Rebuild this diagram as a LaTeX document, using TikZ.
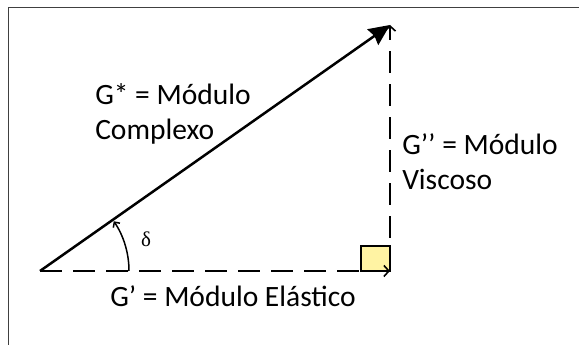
\documentclass[tikz,border=0pt]{standalone}
\usepackage{fontspec}
\setmainfont{Carlito}
\newfontfamily\greekfont{Liberation Serif}
\usetikzlibrary{arrows.meta}
\definecolor{quadyellow}{HTML}{FFF3A3}
\begin{document}
\begin{tikzpicture}[x=1pt,y=1pt,line width=2.5pt,
  dline/.style={dash pattern=on 22pt off 11pt},
  barb/.style={-{Straight Barb[length=5pt,width=11pt,line width=1.6pt]}},
  lbl/.style={inner sep=0pt,align=left,font=\fontsize{29.5}{35}\selectfont}]
  \useasboundingbox (0,0) rectangle (579,345);
  \coordinate (O) at (40,74);
  \coordinate (P) at (390,74);
  \coordinate (T) at (390,320);

  % 边框
  \draw[line width=0.8pt,black!75] (8,0) -- (8,338) -- (579,338);

  % 直角
  \draw[line width=2pt,fill=quadyellow] (P) rectangle ++(-29,25);

  % 分量（虚线）
  \draw[dline,barb] (O) -- (P);
  \draw[dline,barb] (P) -- (T);

  % 合成向量
  \draw[-{Stealth[length=21pt,width=19pt,inset=2pt]}] (O) -- (T);

  % 角度
  \draw[line width=1.5pt,-{Straight Barb[length=4pt,width=8pt]}]
    (O) ++(0:89) arc[start angle=0,end angle=34,radius=89];
  \node[font=\greekfont\fontsize{21}{24}\selectfont] (delta) at (146,106) {δ};

  % 标注
  \node[lbl,anchor=north west] (gstar) at (94,263) {G* = Módulo\\Complexo};
  \node[lbl,anchor=north west] (g2) at (401,213) {G’’ = Módulo\\Viscoso};
  \node[lbl,anchor=base west] (g1) at (109,38) {G’ = Módulo Elástico};
\end{tikzpicture}
\end{document}
